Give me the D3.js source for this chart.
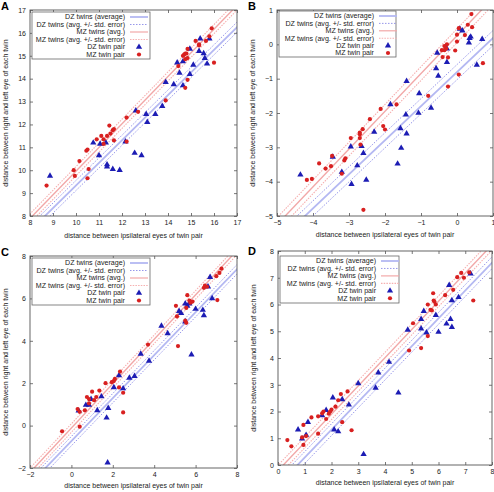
<!DOCTYPE html>
<html><head><meta charset="utf-8">
<script src="https://cdn.jsdelivr.net/npm/d3@7"></script>
<style>
body{margin:0;background:#fff;}
text{font-family:"Liberation Sans",Arial,Helvetica,sans-serif;}
</style></head>
<body><svg id="c" width="494" height="492"></svg>
<script>
// ---------------- DATA ----------------
const panelLetters = ["A","B","C","D"];
const xTitle = "distance between ipsilateral eyes of twin pair";
const yTitle = "distance between right and left eye of each twin";
const legendLabels = ["DZ twins (average)","DZ twins (avg. +/- std. error)","MZ twins (avg.)","MZ twins (avg. +/- std. error)","DZ twin pair","MZ twin pair"];

const domainsA = [8,17], domainsB = [-5,1], domainsC = [-2,8], domainsD = [0,8];
const ticksA = [8,9,10,11,12,13,14,15,16,17];
const ticksB = [-5,-4,-3,-2,-1,0,1];
const ticksC = [-2,0,2,4,6,8];
const ticksD = [0,1,2,3,4,5,6,7,8];

// fitted lines: [intercept, slope, std. error]
const fitMZ = [[-0.38,1.034,0.2],[0.25,1.10,0.2],[-0.115,1.047,0.2],[-0.21,1.055,0.2]];
const fitDZ = [[-0.546,0.988,0.22],[-0.81,0.992,0.22],[-0.73,1.013,0.22],[-0.76,1.04,0.22]];

const aDZ = [[8.87,9.75],[10.75,11.2],[11.05,11.15],[11.3,11.2],[11.0,10.65],[11.35,10.25],[11.35,10.15],[11.6,10.05],[11.9,10.0],[12.55,10.75],[12.85,10.65],[12.15,11.25],[12.6,12.6],[13.05,12.45],[13.1,12.1],[13.45,12.45],[13.75,12.8],[13.9,13.85],[14.25,13.75],[14.65,13.7],[14.5,14.25],[14.95,14.2],[14.4,14.7],[14.65,14.75],[14.95,15.3],[15.1,14.6],[15.35,15.2],[15.4,15.75],[15.55,15.1],[15.6,14.9],[15.7,14.65],[15.8,15.75]];
const aMZ = [[8.72,9.33],[9.9,10.0],[9.95,9.75],[10.15,10.4],[10.45,10.85],[10.5,10.9],[10.5,9.65],[10.55,10.05],[10.9,11.35],[11.1,11.5],[11.2,11.15],[11.2,11.35],[11.35,11.5],[11.45,11.95],[11.5,11.6],[11.6,11.75],[11.65,11.8],[11.65,11.3],[12.2,12.3],[12.2,11.25],[12.7,12.55],[13.9,13.05],[14.45,14.55],[14.65,15.0],[14.7,15.05],[14.75,15.1],[14.8,15.1],[14.75,14.85],[14.85,14.9],[14.85,15.3],[14.85,13.95],[14.75,13.6],[15.2,15.65],[15.35,15.5],[15.35,15.45],[15.65,15.65],[15.8,15.85],[15.9,16.2],[16.0,14.7]];

const bDZ = [[-4.35,-3.8],[-3.45,-3.28],[-3.2,-3.72],[-2.93,-4.07],[-2.52,-3.95],[-2.77,-3.53],[-2.95,-2.98],[-2.65,-2.97],[-2.6,-3.17],[-2.3,-2.55],[-1.85,-1.75],[-1.65,-3.48],[-1.55,-3.02],[-1.57,-2.45],[-1.4,-2.6],[-1.42,-2.05],[-1.4,-1.07],[-1.05,-1.43],[-1.07,-2.0],[-0.72,-1.85],[-0.58,-0.7],[-0.52,-0.92],[-0.55,-0.25],[-0.28,-0.52],[-0.28,-0.13],[0.08,0.45],[0.15,0.4],[0.33,0.05],[0.35,0.18],[0.38,0.22],[0.55,-0.6],[0.7,0.15]];
const bMZ = [[-4.17,-3.95],[-4.03,-3.92],[-3.83,-3.47],[-3.65,-3.62],[-3.5,-3.55],[-3.47,-3.25],[-3.2,-3.77],[-3.13,-3.38],[-3.1,-3.32],[-2.95,-2.73],[-2.7,-2.57],[-2.7,-2.62],[-2.7,-2.73],[-2.68,-2.92],[-2.62,-2.47],[-2.6,-4.82],[-2.42,-2.18],[-2.12,-1.88],[-2.05,-2.38],[-2.0,-2.48],[-1.68,-1.75],[-0.8,-1.5],[-0.42,-0.17],[-0.4,-0.37],[-0.35,-0.05],[-0.35,-0.17],[-0.3,-0.12],[-0.28,0.0],[-0.25,-0.38],[-0.25,-1.23],[-0.05,-0.18],[0.0,0.28],[0.0,0.08],[0.05,-0.88],[0.05,0.47],[0.22,0.27],[0.3,0.57],[0.4,0.88],[0.42,0.5],[0.72,-0.55]];

const cDZ = [[0.35,0.7],[0.7,0.97],[0.85,0.97],[0.95,1.25],[1.25,0.72],[1.45,1.37],[1.7,0.37],[1.78,0.82],[1.75,-1.75],[2.05,1.8],[2.3,2.37],[2.5,1.75],[2.8,2.25],[3.05,2.33],[3.35,3.38],[3.75,3.05],[4.35,4.7],[4.65,4.35],[5.2,5.4],[5.3,5.3],[5.5,4.9],[5.5,5.75],[5.6,5.65],[5.7,5.75],[5.8,3.35],[6.0,5.5],[6.35,5.45],[6.4,5.2],[6.6,6.55],[6.7,7.0],[6.8,6.0]];
const cMZ = [[-0.45,-0.27],[0.3,0.78],[0.4,-0.05],[0.4,0.65],[0.65,0.72],[0.75,1.35],[0.85,1.25],[0.85,1.05],[1.0,1.6],[1.1,1.2],[1.2,1.35],[1.35,1.65],[1.65,2.0],[1.95,2.05],[2.05,2.1],[2.1,2.2],[2.3,1.8],[2.35,2.55],[2.5,1.55],[2.5,0.62],[3.7,3.82],[5.05,5.65],[5.1,5.15],[5.15,3.75],[5.5,4.95],[5.55,5.55],[5.55,4.85],[5.6,6.15],[5.7,5.9],[5.75,5.8],[5.85,5.85],[6.4,6.5],[6.45,6.6],[6.55,6.55],[7.0,7.05],[7.05,5.92],[7.15,7.2],[7.25,7.4]];

const dDZ = [[0.75,1.32],[0.9,0.98],[1.05,1.12],[1.12,1.6],[1.65,1.85],[1.8,2.05],[2.05,2.52],[2.1,1.32],[2.25,1.25],[2.4,2.45],[2.65,2.25],[3.0,3.05],[3.2,0.4],[3.65,2.88],[3.75,3.45],[4.15,3.85],[4.5,2.7],[4.85,5.05],[5.35,5.1],[5.35,5.45],[5.45,5.75],[5.55,4.95],[5.9,5.6],[6.0,4.97],[6.3,5.28],[6.4,6.72],[6.45,5.45],[6.5,5.15],[6.5,6.15],[6.75,6.27],[7.2,7.15]];
const dMZ = [[0.35,0.93],[0.5,0.7],[0.9,1.03],[0.95,0.75],[0.95,1.5],[1.05,1.08],[1.25,1.78],[1.5,1.82],[1.5,1.17],[1.65,1.93],[1.7,2.0],[1.8,1.72],[1.9,1.92],[1.95,2.0],[2.0,2.07],[2.15,2.18],[2.25,2.42],[2.35,2.65],[2.4,1.6],[2.6,2.75],[2.75,1.3],[4.9,4.28],[5.05,5.3],[5.35,4.37],[5.6,6.0],[5.6,4.82],[5.7,5.8],[5.75,5.78],[5.8,6.42],[5.82,6.15],[5.85,6.1],[5.9,6.0],[6.25,6.35],[6.55,6.55],[6.7,7.02],[6.85,7.18],[6.95,7.0],[7.15,7.2],[7.3,6.15]];

// ---------------- LAYOUT ----------------
const panels = [
  {dom:domainsA, ticks:ticksA, dz:aDZ, mz:aMZ, box:[30,10,237,216], letter:[1,9.5], xl:237.5, yl:8, leg:[32,12,118,47,7.5,125]},
  {dom:domainsB, ticks:ticksB, dz:bDZ, mz:bMZ, box:[277,10,493,216], letter:[248,9.5], xl:236.5, yl:255, leg:[279,11,117,46,7.4,374]},
  {dom:domainsC, ticks:ticksC, dz:cDZ, mz:cMZ, box:[30,256,237,468], letter:[1,256], xl:488, yl:8, leg:[32,258,118,47,7.5,125]},
  {dom:domainsD, ticks:ticksD, dz:dDZ, mz:dMZ, box:[278,251,492,465], letter:[248,255], xl:485, yl:256, leg:[280,256,119,47,7.45,376]}
];

const C = {
  frame:"#555", tick:"#555", text:"#222",
  dzAvg:"#b4b8f2", dzSe:"#7c7ce4", mzAvg:"#f2a8a8", mzSe:"#f6b0b0",
  tri:"#1c1cb4", dot:"#d82020"
};

const svg = d3.select("#c");
const tri = d3.symbol().type(d3.symbolTriangle).size(17);

panels.forEach((p,i)=>{
  const [l,t,r,b] = p.box;
  const x = d3.scaleLinear().domain(p.dom).range([l,r]);
  const y = d3.scaleLinear().domain(p.dom).range([b,t]);
  const g = svg.append("g");
  const cid = "clip"+i;
  svg.append("clipPath").attr("id",cid).append("rect").attr("x",l).attr("y",t).attr("width",r-l).attr("height",b-t);

  // axes
  const fmt = d3.format("d");
  g.append("g").attr("transform",`translate(0,${b})`)
    .call(d3.axisBottom(x).tickValues(p.ticks).tickSize(-3).tickPadding(4).tickFormat(fmt));
  g.append("g").attr("transform",`translate(0,${t})`)
    .call(d3.axisTop(x).tickValues(p.ticks).tickSize(-3).tickFormat(""));
  g.append("g").attr("transform",`translate(${l},0)`)
    .call(d3.axisLeft(y).tickValues(p.ticks).tickSize(-3).tickPadding(4).tickFormat(fmt));
  g.append("g").attr("transform",`translate(${r},0)`)
    .call(d3.axisRight(y).tickValues(p.ticks).tickSize(-3).tickFormat(""));
  g.selectAll(".domain").remove();
  g.selectAll(".tick line").attr("stroke",C.tick).attr("stroke-width",0.8);
  g.selectAll(".tick text").attr("font-size",7).attr("fill",C.text).attr("font-family","Liberation Sans, Arial, sans-serif");

  // fit lines
  const lines = g.append("g").attr("clip-path",`url(#${cid})`);
  const drawFit = (fit, off, col, w, dash) => {
    const [a,s] = fit;
    const xs = [p.dom[0]-1, p.dom[1]+1];
    lines.append("line")
      .attr("x1",x(xs[0])).attr("y1",y(a+s*xs[0]+off))
      .attr("x2",x(xs[1])).attr("y2",y(a+s*xs[1]+off))
      .attr("stroke",col).attr("stroke-width",w).attr("stroke-dasharray",dash);
  };
  const fd = fitDZ[i], fm = fitMZ[i];
  drawFit(fd,0,C.dzAvg,1.8,null);
  drawFit(fd,fd[2],C.dzSe,0.8,"1.5,1.5");
  drawFit(fd,-fd[2],C.dzSe,0.8,"1.5,1.5");
  drawFit(fm,0,C.mzAvg,1.4,null);
  drawFit(fm,fm[2],C.mzSe,1.1,"1.5,1.2");
  drawFit(fm,-fm[2],C.mzSe,1.1,"1.5,1.2");

  // frame
  g.append("rect").attr("x",l).attr("y",t).attr("width",r-l).attr("height",b-t)
    .attr("fill","none").attr("stroke",C.frame).attr("stroke-width",0.9);

  // points
  g.append("g").selectAll("path").data(p.dz).join("path")
    .attr("d",tri).attr("transform",d=>`translate(${x(d[0])},${y(d[1])})`).attr("fill",C.tri);
  g.append("g").selectAll("circle").data(p.mz).join("circle")
    .attr("cx",d=>x(d[0])).attr("cy",d=>y(d[1])).attr("r",2.1).attr("fill",C.dot);

  // titles
  g.append("text").attr("x",(l+r)/2).attr("y",p.xl).attr("text-anchor","middle")
    .attr("font-size",7).attr("fill",C.text).text(xTitle);
  g.append("text").attr("transform",`translate(${p.yl},${(t+b)/2}) rotate(-90)`).attr("text-anchor","middle")
    .attr("font-size",7).attr("fill",C.text).text(yTitle);
  g.append("text").attr("x",p.letter[0]).attr("y",p.letter[1]).attr("font-size",11)
    .attr("font-weight","bold").attr("fill","#000").text(panelLetters[i]);

  // legend
  const [lx,ly,lw,lh,sp,tx] = p.leg;
  const lg = g.append("g");
  lg.append("rect").attr("x",lx).attr("y",ly).attr("width",lw).attr("height",lh)
    .attr("fill","#fff").attr("stroke","#666").attr("stroke-width",0.8);
  const sx1 = tx+5, sx2 = tx+23;
  legendLabels.forEach((lab,k)=>{
    const cy = ly + 5 + sp*k;
    lg.append("text").attr("x",tx).attr("y",cy+2.4).attr("text-anchor","end")
      .attr("font-size",7.1).attr("fill",C.text).text(lab);
    if(k<4){
      const st = [[C.dzAvg,1.8,null],[C.dzSe,0.8,"1.5,1.5"],[C.mzAvg,1.2,null],[C.mzSe,1.1,"1.5,1.2"]][k];
      lg.append("line").attr("x1",sx1).attr("x2",sx2).attr("y1",cy).attr("y2",cy)
        .attr("stroke",st[0]).attr("stroke-width",st[1]).attr("stroke-dasharray",st[2]);
    } else if(k===4){
      lg.append("path").attr("d",tri).attr("transform",`translate(${(sx1+sx2)/2},${cy})`).attr("fill",C.tri);
    } else {
      lg.append("circle").attr("cx",(sx1+sx2)/2).attr("cy",cy).attr("r",2.1).attr("fill",C.dot);
    }
  });
});
</script></body></html>
